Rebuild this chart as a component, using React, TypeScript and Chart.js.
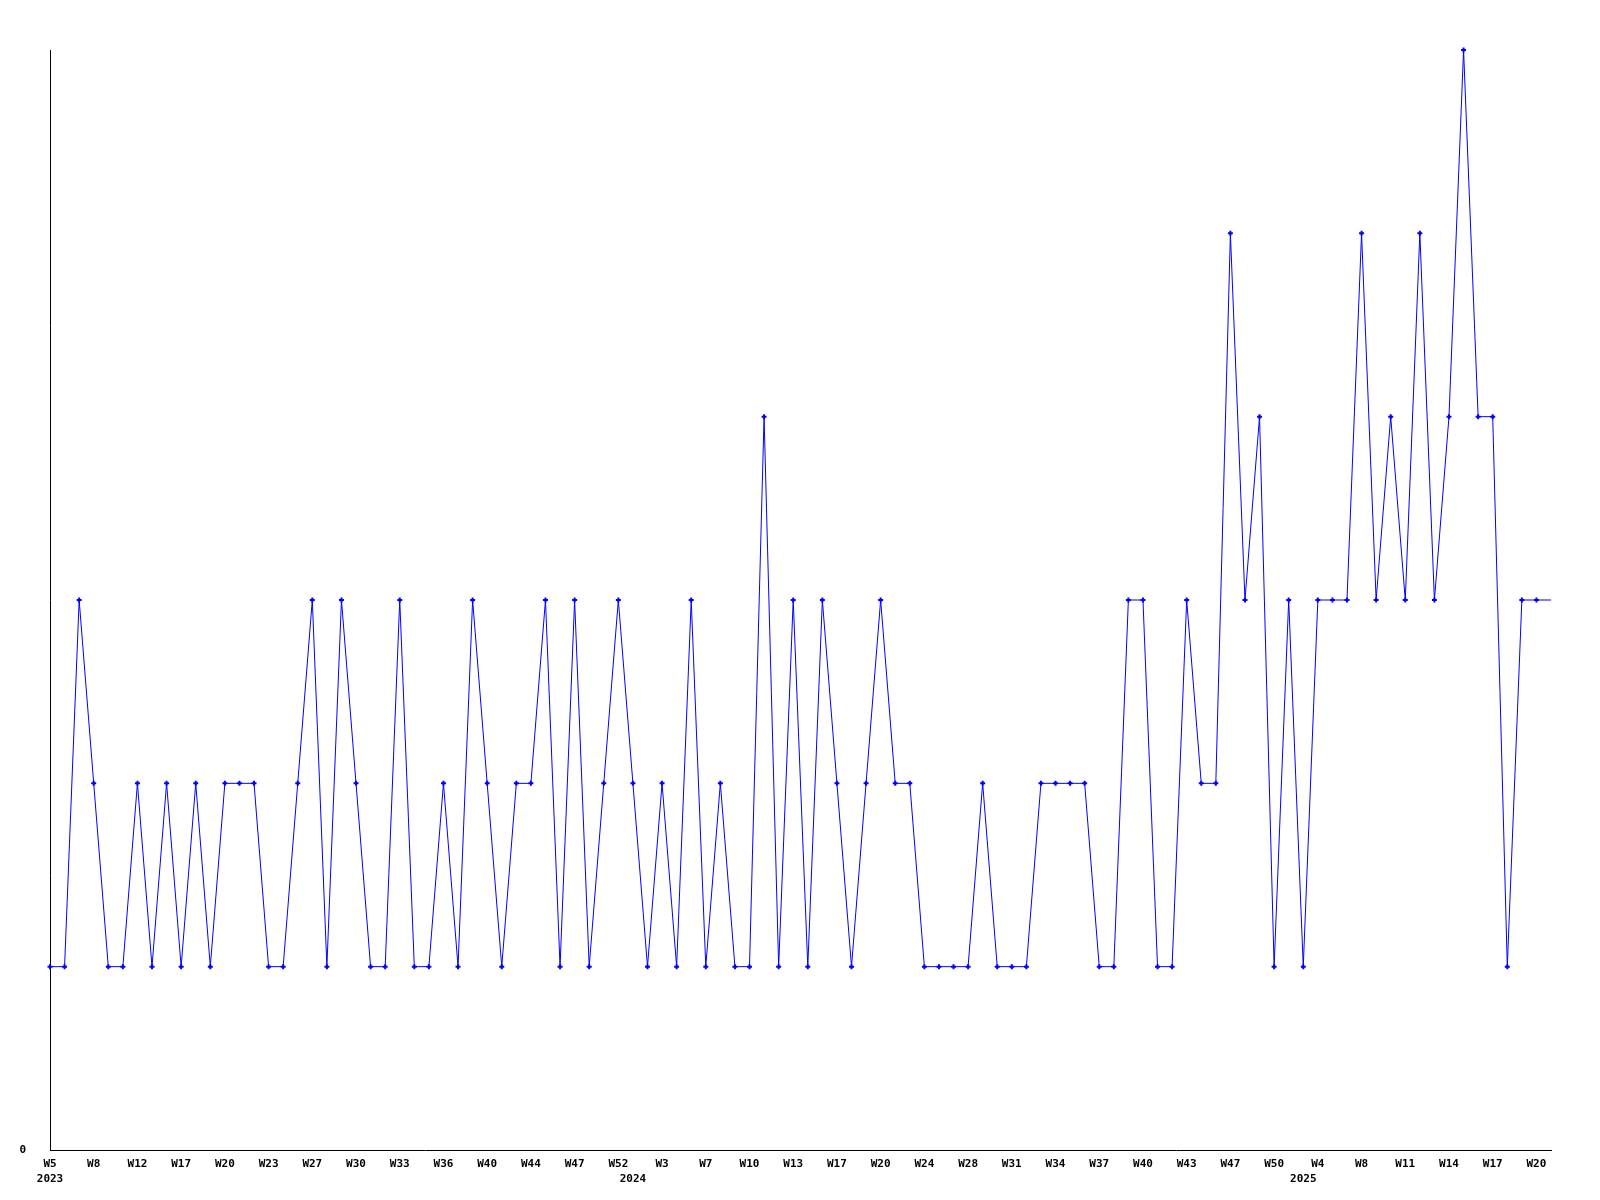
import React, { useEffect, useRef } from "react";
import { Chart, registerables } from "chart.js";

Chart.register(...registerables);

// Week numbers of each sampled point, grouped by year
const weeks2023 = [5, 6, 7, 8, 9, 10, 12, 13, 15, 17, 18, 19, 20, 21, 22, 23, 24, 26, 27, 28, 29, 30, 31, 32, 33, 34, 35, 36, 37, 39, 40, 42, 43, 44, 45, 46, 47, 49, 51, 52];
const weeks2024 = [1, 2, 3, 5, 6, 7, 8, 9, 10, 11, 12, 13, 14, 16, 17, 18, 19, 20, 21, 23, 24, 25, 27, 28, 29, 30, 31, 32, 33, 34, 35, 36, 37, 38, 39, 40, 41, 42, 43, 45, 46, 47, 48, 49, 50, 52];
const weeks2025 = [2, 4, 5, 7, 8, 9, 10, 11, 12, 13, 14, 15, 16, 17, 18, 19, 20, 21];
const years = ["2023", "2024", "2025"];

// Weekly counts
const counts = [
  1, 1, 3, 2, 1, 1, 2, 1, 2, 1,
  2, 1, 2, 2, 2, 1, 1, 2, 3, 1,
  3, 2, 1, 1, 3, 1, 1, 2, 1, 3,
  2, 1, 2, 2, 3, 1, 3, 1, 2, 3,
  2, 1, 2, 1, 3, 1, 2, 1, 1, 4,
  1, 3, 1, 3, 2, 1, 2, 3, 2, 2,
  1, 1, 1, 1, 2, 1, 1, 1, 2, 2,
  2, 2, 1, 1, 3, 3, 1, 1, 3, 2,
  2, 5, 3, 4, 1, 3, 1, 3, 3, 3,
  5, 3, 4, 3, 5, 3, 4, 6, 4, 4,
  1, 3, 3, 3,
];

const yMin = 0;
const yMax = 6;
const yTickLabels = ["0"];

const weekGroups = [weeks2023, weeks2024, weeks2025];
const labels: string[] = [];
const yearAtIndex: Record<number, string> = {};
weekGroups.forEach((g, gi) => {
  yearAtIndex[labels.length] = years[gi];
  g.forEach((w) => labels.push("W" + w));
});

const FONT = { family: "'DejaVu Sans Mono', monospace", size: 11, weight: "bold" as const };

export default function App() {
  const ref = useRef<HTMLCanvasElement | null>(null);
  useEffect(() => {
    if (!ref.current) return;
    const last = counts.length - 1;
    const chart = new Chart(ref.current, {
      type: "line",
      data: {
        labels,
        datasets: [
          {
            data: counts,
            borderColor: "#0000ff",
            backgroundColor: "#0000ff",
            borderWidth: 1,
            pointStyle: "cross",
            pointRadius: (ctx: any) => (ctx.dataIndex === last ? 0 : 2.5),
            pointBorderWidth: 2,
            pointBorderColor: "#0000ff",
            tension: 0,
            clip: false as any,
          },
        ],
      },
      options: {
        responsive: false,
        animation: false,
        devicePixelRatio: 1,
        layout: { padding: { top: 50, right: 49, left: 0, bottom: 0 } },
        plugins: { legend: { display: false }, tooltip: { enabled: false } },
        scales: {
          x: {
            type: "category",
            grid: { display: false, drawTicks: false },
            border: { display: true, color: "#000", width: 1 },
            afterFit: (s: any) => {
              s.height = 50;
            },
            ticks: {
              autoSkip: false,
              maxRotation: 0,
              minRotation: 0,
              padding: 6,
              color: "#000",
              font: { ...FONT, lineHeight: 1.4 },
              callback: function (this: any, _v: any, i: number) {
                const wk = i % 3 === 0 ? labels[i] : "";
                const yr = yearAtIndex[i];
                if (yr) return [wk, yr];
                return wk;
              },
            },
          },
          y: {
            min: yMin,
            max: yMax,
            grid: { display: false, drawTicks: false },
            border: { display: true, color: "#000", width: 1 },
            afterFit: (s: any) => {
              s.width = 50;
            },
            ticks: {
              stepSize: 1,
              padding: 24,
              color: "#000",
              font: FONT,
              callback: (v: any) => (v === yMin ? yTickLabels[0] : ""),
            },
          },
        },
      },
    });
    return () => chart.destroy();
  }, []);
  return (
    <div style={{ position: "absolute", left: 0, top: 0, width: 1600, height: 1200, background: "#fff" }}>
      <canvas ref={ref} width={1600} height={1200} style={{ display: "block" }} />
    </div>
  );
}
